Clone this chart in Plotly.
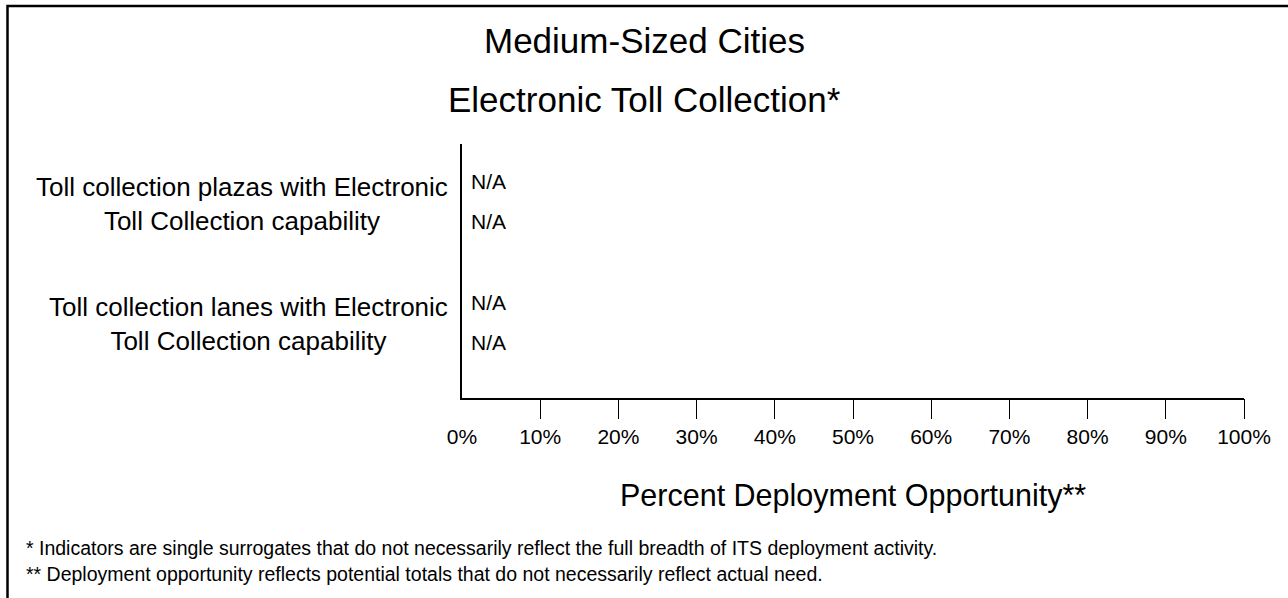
import plotly.graph_objects as go

# ---------------- data ----------------
categories = [
    "Toll collection plazas with Electronic<br>Toll Collection capability",
    "Toll collection lanes with Electronic<br>Toll Collection capability",
]
series_names = ["Series 1", "Series 2"]
series1_values = [None, None]   # N/A
series2_values = [None, None]   # N/A
tick_values = [0.0, 0.1, 0.2, 0.3, 0.4, 0.5, 0.6, 0.7, 0.8, 0.9, 1.0]
tick_labels = ["0%", "10%", "20%", "30%", "40%", "50%", "60%", "70%", "80%", "90%", "100%"]
title_lines = ["Medium-Sized Cities", "Electronic Toll Collection*"]
x_title = "Percent Deployment Opportunity**"
footnotes = [
    "* Indicators are single surrogates that do not necessarily reflect the full breadth of ITS deployment activity.",
    "** Deployment opportunity reflects potential totals that do not necessarily reflect actual need.",
]

# ---------------- layout geometry ----------------
W, H = 1288, 598
ML, MR, MT, MB = 462, 44, 144, 200
PW, PH = W - ML - MR, H - MT - MB
FONT = "Liberation Sans, Arial, sans-serif"


def px(xpix):
    return (xpix - ML) / PW


def py(ypix):
    return (H - MB - ypix) / PH


fig = go.Figure()
ypos = list(range(len(categories)))
all_series = [series1_values, series2_values]
for name, vals in zip(series_names, all_series):
    fig.add_trace(go.Bar(x=vals, y=ypos, orientation="h", name=name,
                         marker_color="#808080", showlegend=False))
# empty trace to activate the tick-mark overlay axis
fig.add_trace(go.Scatter(x=[], y=[], xaxis="x2", showlegend=False, hoverinfo="skip"))

annotations = []
# titles
annotations.append(dict(text=title_lines[0], xref="paper", yref="paper", x=px(644), y=py(40),
                        xanchor="center", yanchor="middle", showarrow=False,
                        font=dict(size=35, color="black", family=FONT)))
annotations.append(dict(text=title_lines[1], xref="paper", yref="paper", x=px(644), y=py(99),
                        xanchor="center", yanchor="middle", showarrow=False,
                        font=dict(size=35, color="black", family=FONT)))
# category labels
for i, c in enumerate(categories):
    annotations.append(dict(text=c, xref="paper", yref="y", x=0, y=i, xanchor="right",
                            yanchor="middle", xshift=-12, yshift=-2, align="center",
                            showarrow=False,
                            font=dict(size=26, color="black", family=FONT)))
# value labels
offsets = [-1 / 6, 1 / 6]
for s, vals in enumerate(all_series):
    for i, v in enumerate(vals):
        txt = "N/A" if v is None else f"{v:.0%}"
        annotations.append(dict(text=txt, xref="x", yref="y", x=0 if v is None else v,
                                y=i + offsets[s], xanchor="left", yanchor="middle",
                                xshift=7, showarrow=False,
                                font=dict(size=21, color="black", family=FONT)))
# x axis title
annotations.append(dict(text=x_title, xref="paper", yref="paper", x=0.5, y=py(495),
                        xanchor="center", yanchor="middle", showarrow=False,
                        font=dict(size=30.5, color="black", family=FONT)))
# footnotes
for k, (fn, yy) in enumerate(zip(footnotes, [548, 574])):
    annotations.append(dict(text=fn, xref="paper", yref="paper", x=px(24), y=py(yy),
                            xanchor="left", yanchor="middle", showarrow=False,
                            font=dict(size=19.5, color="black", family=FONT)))

# frame around the figure (left and top edges visible)
bx, by = px(7.5), py(6)
shapes = [dict(type="path", xref="paper", yref="paper",
               path=f"M {bx},{py(700)} L {bx},{by} L {px(1400)},{by}",
               line=dict(color="black", width=2.5))]

fig.update_layout(
    width=W, height=H,
    margin=dict(l=ML, r=MR, t=MT, b=MB, pad=0),
    paper_bgcolor="white", plot_bgcolor="white",
    barmode="group",
    font=dict(family=FONT, color="black"),
    annotations=annotations,
    shapes=shapes,
    xaxis=dict(range=[0, 1], tickmode="array", tickvals=tick_values, ticktext=tick_labels,
               ticks="outside", ticklen=19, tickcolor="rgba(0,0,0,0)",
               showline=True, linecolor="black", linewidth=2,
               showgrid=False, zeroline=False, fixedrange=True,
               tickfont=dict(size=21, color="black", family=FONT)),
    xaxis2=dict(range=[0, 1], overlaying="x", anchor="y", side="bottom",
                tickmode="array", tickvals=tick_values[1:], ticks="outside", ticklen=20,
                tickwidth=1.3, tickcolor="black", showticklabels=False,
                showline=False, showgrid=False, zeroline=False, fixedrange=True),
    yaxis=dict(range=[1.633, -0.483], showline=True, linecolor="black", linewidth=2,
               showticklabels=False, ticks="", showgrid=False, zeroline=False, fixedrange=True),
    showlegend=False,
)

fig.write_html("out.html", config={"displayModeBar": False},
               post_script="document.body.style.margin='0px';")
